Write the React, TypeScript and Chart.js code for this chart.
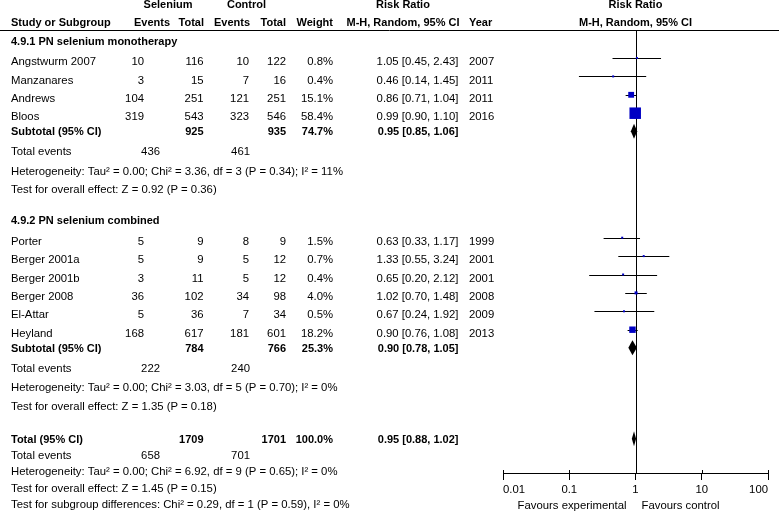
import React, { useEffect, useRef } from 'react';
import { Chart, registerables } from 'chart.js';

Chart.register(...registerables);

// ---------- data ----------
const groupTitles = ['4.9.1 PN selenium monotherapy', '4.9.2 PN selenium combined'];
const studyGroup = [0, 0, 0, 0, 1, 1, 1, 1, 1, 1];
const studyNames = ['Angstwurm 2007', 'Manzanares', 'Andrews', 'Bloos', 'Porter', 'Berger 2001a', 'Berger 2001b', 'Berger 2008', 'El-Attar', 'Heyland'];
const selEvents = [10, 3, 104, 319, 5, 5, 3, 36, 5, 168];
const selTotals = [116, 15, 251, 543, 9, 9, 11, 102, 36, 617];
const ctlEvents = [10, 7, 121, 323, 8, 5, 5, 34, 7, 181];
const ctlTotals = [122, 16, 251, 546, 9, 12, 12, 98, 34, 601];
const weights = [0.8, 0.4, 15.1, 58.4, 1.5, 0.7, 0.4, 4.0, 0.5, 18.2];
const riskRatios = [1.05, 0.46, 0.86, 0.99, 0.63, 1.33, 0.65, 1.02, 0.67, 0.90];
const ciLow = [0.45, 0.14, 0.71, 0.90, 0.33, 0.55, 0.20, 0.70, 0.24, 0.76];
const ciHigh = [2.43, 1.45, 1.04, 1.10, 1.17, 3.24, 2.12, 1.48, 1.92, 1.08];
const years = [2007, 2011, 2011, 2016, 1999, 2001, 2001, 2008, 2009, 2013];

const subSelTotals = [925, 784];
const subCtlTotals = [935, 766];
const subWeights = [74.7, 25.3];
const subRR = [0.95, 0.90];
const subLow = [0.85, 0.78];
const subHigh = [1.06, 1.05];
const subSelEvents = [436, 222];
const subCtlEvents = [461, 240];
const subHeterogeneity = [
  'Heterogeneity: Tau² = 0.00; Chi² = 3.36, df = 3 (P = 0.34); I² = 11%',
  'Heterogeneity: Tau² = 0.00; Chi² = 3.03, df = 5 (P = 0.70); I² = 0%',
];
const subOverallTest = ['Test for overall effect: Z = 0.92 (P = 0.36)', 'Test for overall effect: Z = 1.35 (P = 0.18)'];

const totalSelTotal = 1709;
const totalCtlTotal = 1701;
const totalWeight = 100.0;
const totalRR = 0.95;
const totalLow = 0.88;
const totalHigh = 1.02;
const totalSelEvents = 658;
const totalCtlEvents = 701;
const totalHeterogeneity = 'Heterogeneity: Tau² = 0.00; Chi² = 6.92, df = 9 (P = 0.65); I² = 0%';
const totalOverallTest = 'Test for overall effect: Z = 1.45 (P = 0.15)';
const subgroupDiffTest = 'Test for subgroup differences: Chi² = 0.29, df = 1 (P = 0.59), I² = 0%';

const tickValues = [0.01, 0.1, 1, 10, 100];
const tickLabels = ['0.01', '0.1', '1', '10', '100'];
const favoursLeft = 'Favours experimental';
const favoursRight = 'Favours control';

// ---------- layout / style ----------
const W = 779;
const H = 523;
const FONT = "'Liberation Sans', Arial, Helvetica, sans-serif";
const FS = 11.33;
const FS_BOLD = 11;
const TEXT = '#000';
const BLUE = '#0000c4';
const COL = { name: 11, selEv: 144, selTot: 203.5, ctlEv: 249, ctlTot: 286, weight: 333, rr: 458.5, year: 469, evSum: 160, ctlSum: 250, rrHead: 403 };
const HEAD1_Y = 5;
const HEAD2_Y = 23;
const HEAD_LINE_Y = 30;
const AXIS_Y = 473;
const FAVOURS_Y = 506;
const STUDY_MARK_OFFSET = 4;
const DIAMOND_OFFSET = 1;
const DIAMOND_HALF = 7.5;

type Cell = { text: string; x: number; align: CanvasTextAlign; bold?: boolean };
type Row = { y: number; cells: Cell[]; study?: number; diamond?: [number, number, number] };

const fmtRR = (r: number, l: number, h: number) => `${r.toFixed(2)} [${l.toFixed(2)}, ${h.toFixed(2)}]`;
const fmtW = (w: number) => `${w.toFixed(1)}%`;

function buildRows(): Row[] {
  const rows: Row[] = [];
  let y = 41.5;
  for (let g = 0; g < groupTitles.length; g++) {
    if (g > 0) y += 31;
    rows.push({ y, cells: [{ text: groupTitles[g], x: COL.name, align: 'left', bold: true }] });
    let first = true;
    for (let i = 0; i < studyNames.length; i++) {
      if (studyGroup[i] !== g) continue;
      y += first ? 20.5 : 18.4;
      first = false;
      rows.push({
        y,
        study: i,
        cells: [
          { text: studyNames[i], x: COL.name, align: 'left' },
          { text: String(selEvents[i]), x: COL.selEv, align: 'right' },
          { text: String(selTotals[i]), x: COL.selTot, align: 'right' },
          { text: String(ctlEvents[i]), x: COL.ctlEv, align: 'right' },
          { text: String(ctlTotals[i]), x: COL.ctlTot, align: 'right' },
          { text: fmtW(weights[i]), x: COL.weight, align: 'right' },
          { text: fmtRR(riskRatios[i], ciLow[i], ciHigh[i]), x: COL.rr, align: 'right' },
          { text: String(years[i]), x: COL.year, align: 'left' },
        ],
      });
    }
    y += 15;
    rows.push({
      y,
      diamond: [subLow[g], subRR[g], subHigh[g]],
      cells: [
        { text: 'Subtotal (95% CI)', x: COL.name, align: 'left', bold: true },
        { text: String(subSelTotals[g]), x: COL.selTot, align: 'right', bold: true },
        { text: String(subCtlTotals[g]), x: COL.ctlTot, align: 'right', bold: true },
        { text: fmtW(subWeights[g]), x: COL.weight, align: 'right', bold: true },
        { text: fmtRR(subRR[g], subLow[g], subHigh[g]), x: COL.rr, align: 'right', bold: true },
      ],
    });
    y += 20;
    rows.push({
      y,
      cells: [
        { text: 'Total events', x: COL.name, align: 'left' },
        { text: String(subSelEvents[g]), x: COL.evSum, align: 'right' },
        { text: String(subCtlEvents[g]), x: COL.ctlSum, align: 'right' },
      ],
    });
    y += 19.5;
    rows.push({ y, cells: [{ text: subHeterogeneity[g], x: COL.name, align: 'left' }] });
    y += 18.5;
    rows.push({ y, cells: [{ text: subOverallTest[g], x: COL.name, align: 'left' }] });
  }
  y += 33;
  rows.push({
    y,
    diamond: [totalLow, totalRR, totalHigh],
    cells: [
      { text: 'Total (95% CI)', x: COL.name, align: 'left', bold: true },
      { text: String(totalSelTotal), x: COL.selTot, align: 'right', bold: true },
      { text: String(totalCtlTotal), x: COL.ctlTot, align: 'right', bold: true },
      { text: fmtW(totalWeight), x: COL.weight, align: 'right', bold: true },
      { text: fmtRR(totalRR, totalLow, totalHigh), x: COL.rr, align: 'right', bold: true },
    ],
  });
  y += 16.3;
  rows.push({
    y,
    cells: [
      { text: 'Total events', x: COL.name, align: 'left' },
      { text: String(totalSelEvents), x: COL.evSum, align: 'right' },
      { text: String(totalCtlEvents), x: COL.ctlSum, align: 'right' },
    ],
  });
  y += 16.3;
  rows.push({ y, cells: [{ text: totalHeterogeneity, x: COL.name, align: 'left' }] });
  y += 16.3;
  rows.push({ y, cells: [{ text: totalOverallTest, x: COL.name, align: 'left' }] });
  y += 16.3;
  rows.push({ y, cells: [{ text: subgroupDiffTest, x: COL.name, align: 'left' }] });
  return rows;
}

const squareSide = (w: number) => Math.max(2, 11.5 * Math.sqrt(w / 58.4));

export default function App() {
  const ref = useRef<HTMLCanvasElement>(null);

  useEffect(() => {
    const canvas = ref.current;
    if (!canvas) return;
    const rows = buildRows();

    const points = rows
      .filter((r) => r.study !== undefined)
      .map((r) => ({ x: riskRatios[r.study as number], y: r.y - STUDY_MARK_OFFSET, w: weights[r.study as number] }));

    const forestPlugin = {
      id: 'forest',
      beforeDatasetsDraw(chart: any) {
        const { ctx, scales } = chart;
        const xs = scales.x;
        const ys = scales.y;
        ctx.save();
        ctx.strokeStyle = '#000';
        ctx.lineWidth = 1;
        // line of no effect
        const x1 = Math.round(xs.getPixelForValue(1)) + 0.5;
        ctx.beginPath();
        ctx.moveTo(x1, ys.getPixelForValue(HEAD_LINE_Y));
        ctx.lineTo(x1, ys.getPixelForValue(AXIS_Y));
        ctx.stroke();
        // confidence intervals
        rows.forEach((r) => {
          if (r.study === undefined) return;
          const i = r.study;
          const yy = Math.round(ys.getPixelForValue(r.y - STUDY_MARK_OFFSET)) + 0.5;
          ctx.beginPath();
          ctx.moveTo(xs.getPixelForValue(ciLow[i]), yy);
          ctx.lineTo(xs.getPixelForValue(ciHigh[i]), yy);
          ctx.stroke();
        });
        // diamonds
        ctx.fillStyle = '#000';
        rows.forEach((r) => {
          if (!r.diamond) return;
          const [lo, est, hi] = r.diamond;
          const yc = ys.getPixelForValue(r.y - DIAMOND_OFFSET);
          ctx.beginPath();
          ctx.moveTo(xs.getPixelForValue(lo), yc);
          ctx.lineTo(xs.getPixelForValue(est), yc - DIAMOND_HALF);
          ctx.lineTo(xs.getPixelForValue(hi), yc);
          ctx.lineTo(xs.getPixelForValue(est), yc + DIAMOND_HALF);
          ctx.closePath();
          ctx.fill();
        });
        ctx.restore();
      },
      afterDraw(chart: any) {
        const { ctx, scales, chartArea } = chart;
        const xs = scales.x;
        const ys = scales.y;
        ctx.save();
        ctx.fillStyle = TEXT;
        ctx.textBaseline = 'middle';
        const put = (text: string, x: number, yv: number, align: CanvasTextAlign, bold?: boolean) => {
          ctx.font = bold ? `bold ${FS_BOLD}px ${FONT}` : `${FS}px ${FONT}`;
          ctx.textAlign = align;
          ctx.fillText(text, x, ys.getPixelForValue(yv));
        };
        const plotCenter = (chartArea.left + chartArea.right) / 2;
        // headers
        put('Selenium', 168, HEAD1_Y, 'center', true);
        put('Control', 246.5, HEAD1_Y, 'center', true);
        put('Risk Ratio', COL.rrHead, HEAD1_Y, 'center', true);
        put('Risk Ratio', plotCenter, HEAD1_Y, 'center', true);
        put('Study or Subgroup', COL.name, HEAD2_Y, 'left', true);
        put('Events', 170, HEAD2_Y, 'right', true);
        put('Total', 204, HEAD2_Y, 'right', true);
        put('Events', 250, HEAD2_Y, 'right', true);
        put('Total', 286, HEAD2_Y, 'right', true);
        put('Weight', COL.weight, HEAD2_Y, 'right', true);
        put('M-H, Random, 95% CI', COL.rrHead, HEAD2_Y, 'center', true);
        put('Year', COL.year, HEAD2_Y, 'left', true);
        put('M-H, Random, 95% CI', plotCenter, HEAD2_Y, 'center', true);
        // header rule
        ctx.strokeStyle = '#000';
        ctx.lineWidth = 1;
        const hy = Math.round(ys.getPixelForValue(HEAD_LINE_Y)) + 0.5;
        ctx.beginPath();
        ctx.moveTo(0, hy);
        ctx.lineTo(W, hy);
        ctx.stroke();
        // table rows
        rows.forEach((r) => r.cells.forEach((c) => put(c.text, c.x, r.y, c.align, c.bold)));
        // favours labels
        const x1 = xs.getPixelForValue(1);
        put(favoursLeft, x1 - 9, FAVOURS_Y, 'right');
        put(favoursRight, x1 + 6, FAVOURS_Y, 'left');
        // upper tick stubs
        const ay = Math.round(ys.getPixelForValue(AXIS_Y));
        tickValues.forEach((v) => {
          const tx = Math.round(xs.getPixelForValue(v)) + 0.5;
          ctx.beginPath();
          ctx.moveTo(tx, ay - 3);
          ctx.lineTo(tx, ay + 1);
          ctx.stroke();
        });
        ctx.restore();
      },
    };

    const chart = new Chart(canvas, {
      type: 'scatter',
      data: {
        datasets: [
          {
            data: points as any,
            pointStyle: 'rect',
            pointRadius: (c: any) => squareSide(c.raw ? c.raw.w : 1) / Math.SQRT2,
            pointHoverRadius: (c: any) => squareSide(c.raw ? c.raw.w : 1) / Math.SQRT2,
            backgroundColor: BLUE,
            borderWidth: 0,
            pointBorderWidth: 0,
          } as any,
        ],
      },
      options: {
        responsive: false,
        animation: false,
        events: [],
        layout: { autoPadding: false, padding: { left: 503, right: 11, top: 0, bottom: 0 } },
        plugins: { legend: { display: false }, tooltip: { enabled: false } },
        scales: {
          x: {
            type: 'logarithmic',
            min: 0.01,
            max: 100,
            position: { y: AXIS_Y } as any,
            afterBuildTicks: (scale: any) => {
              scale.ticks = tickValues.map((v) => ({ value: v }));
            },
            ticks: {
              autoSkip: false,
              maxRotation: 0,
              align: 'inner' as any,
              padding: 4,
              color: TEXT,
              font: { family: FONT, size: FS },
              callback: (_v: any, idx: number) => tickLabels[idx],
            },
            grid: { drawOnChartArea: false, drawTicks: true, tickLength: 6, color: '#000', lineWidth: 1 },
            border: { display: true, color: '#000', width: 1 },
          },
          y: { type: 'linear', min: 0, max: H, reverse: true, display: false },
        },
      } as any,
      plugins: [forestPlugin],
    });
    return () => chart.destroy();
  }, []);

  return (
    <div style={{ position: 'absolute', left: 0, top: 0, width: W, height: H, background: '#fff' }}>
      <canvas ref={ref} width={W} height={H} style={{ display: 'block', width: W, height: H }} />
    </div>
  );
}
